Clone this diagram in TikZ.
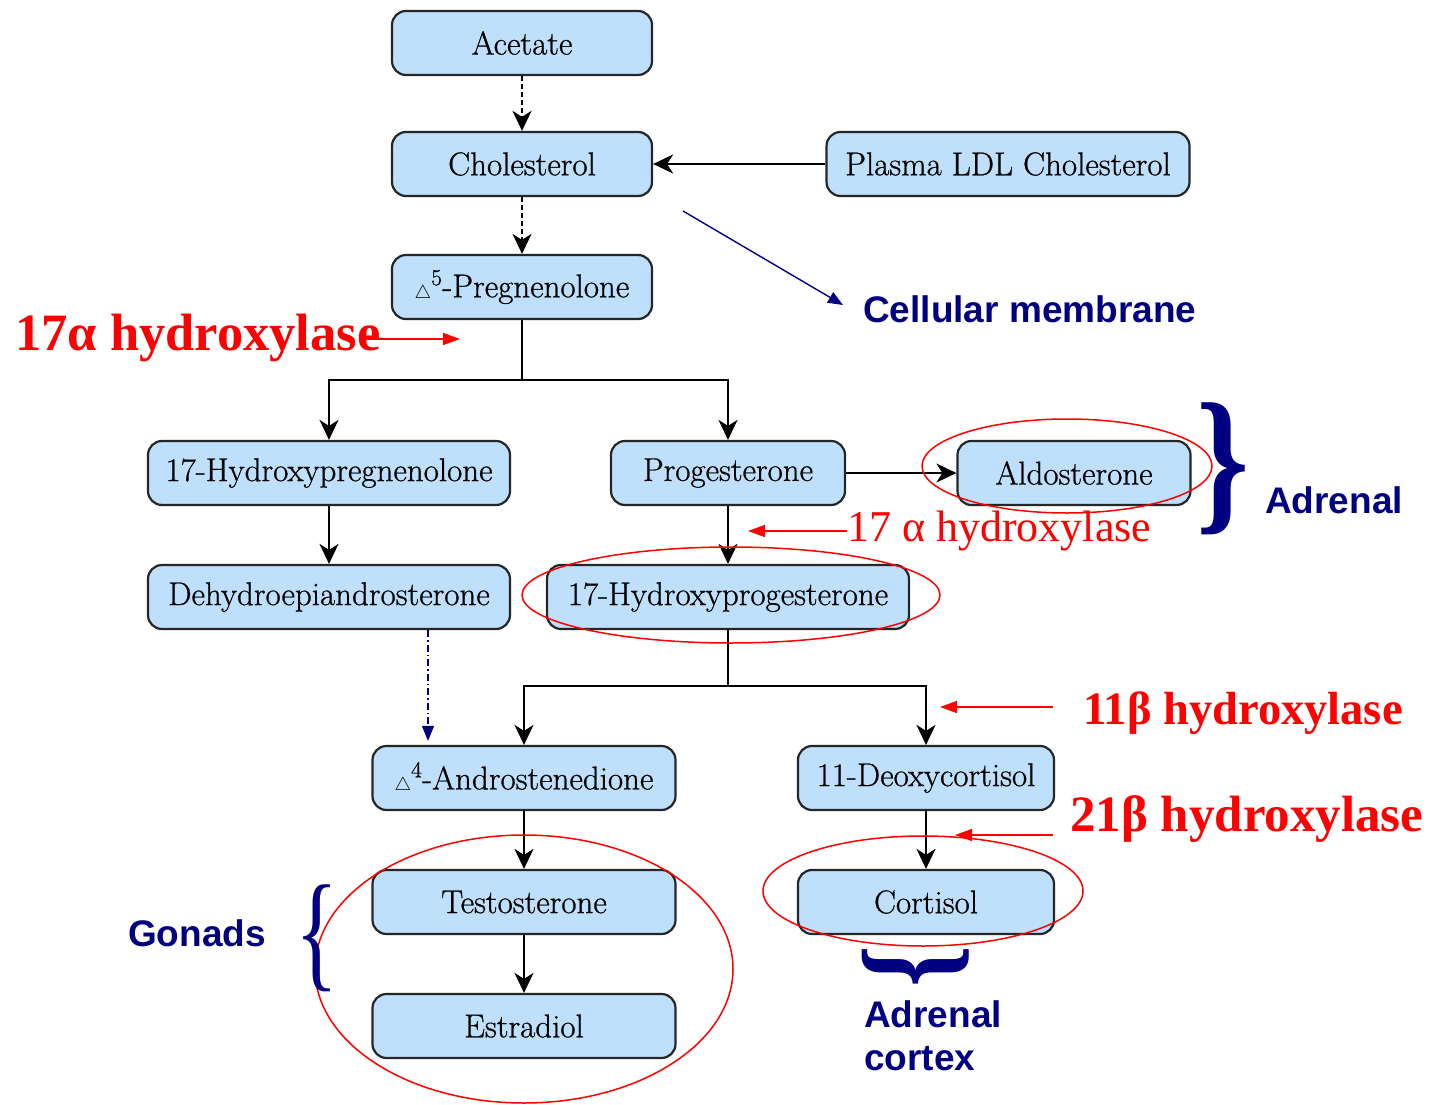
\documentclass[tikz,border=0pt]{standalone}
\usepackage{fontspec}
\usepackage{graphicx}
\usetikzlibrary{arrows.meta,shapes.geometric}
\newfontfamily\sansbold{Liberation Sans}
\newfontfamily\timesf{Liberation Serif}
\newfontfamily\boxfont{Latin Modern Roman}[FakeBold=0.7]
\definecolor{boxblue}{RGB}{190,224,252}
\definecolor{navyc}{RGB}{0,0,128}
\newcommand\dlt[1]{\raisebox{-1pt}{\scalebox{0.75}{$\triangle$}}\raisebox{3pt}{\textsuperscript{#1}}}
\begin{document}
\begin{tikzpicture}[x=1pt,y=-1pt,
  box/.style={draw=black!85, line width=2.2pt, fill=boxblue, rounded corners=14pt,
    minimum height=64pt, inner sep=0pt, font=\fontsize{33}{36}\boxfont},
  flow/.style={line width=2pt, -{Stealth[length=20pt,width=19pt,inset=6pt]}},
  plain/.style={line width=2pt},
  redarrow/.style={red, line width=1.6pt, -{Triangle[length=17pt,width=12pt]}},
  navyarrow/.style={navyc, line width=1.4pt, -{Triangle[length=15pt,width=12pt]}},
  redring/.style={red, line width=1.5pt},
  bluelabel/.style={navyc, anchor=base west, inner sep=0pt, font=\fontsize{37}{40}\sansbold\bfseries},
  redlabel/.style={red, anchor=base west, inner sep=0pt},
  bracec/.style={navyc, inner sep=0pt}
]
\useasboundingbox (0,0) rectangle (1430,1105);
\fill[white] (0,0) rectangle (1430,1105);

% boxes
\node[box, minimum width=260pt] (acetate) at (522,43) {Acetate};
\node[box, minimum width=260pt] (chol) at (522,164) {Cholesterol};
\node[box, minimum width=260pt] (preg) at (522,287) {\dlt{5}-Pregnenolone};
\node[box, minimum width=363pt] (ldl) at (1008,164) {Plasma LDL Cholesterol};
\node[box, minimum width=362pt] (ohpreg) at (329,473) {17-Hydroxypregnenolone};
\node[box, minimum width=234pt] (prog) at (728,473) {Progesterone};
\node[box, minimum width=233pt] (aldo) at (1074,473) {Aldosterone};
\node[box, minimum width=362pt] (dhea) at (329,597) {Dehydroepiandrosterone};
\node[box, minimum width=362pt] (ohprog) at (728,597) {17-Hydroxyprogesterone};
\node[box, minimum width=303pt] (andro) at (524,778) {\dlt{4}-Androstenedione};
\node[box, minimum width=256pt] (deoxy) at (926,778) {11-Deoxycortisol};
\node[box, minimum width=303pt] (testo) at (524,902) {Testosterone};
\node[box, minimum width=256pt] (cort) at (926,902) {Cortisol};
\node[box, minimum width=303pt] (estra) at (524,1026) {Estradiol};

% black connectors
\draw[flow, dash pattern=on 5pt off 3pt] (acetate) -- (chol);
\draw[flow, dash pattern=on 5pt off 3pt] (chol) -- (preg);
\draw[flow] (ldl) -- (chol);
\coordinate (j1) at (522,380);
\draw[plain] (preg) -- (j1);
\draw[flow] (j1) -| (ohpreg);
\draw[flow] (j1) -| (prog);
\draw[flow] (ohpreg) -- (dhea);
\draw[flow] (prog) -- (aldo);
\draw[flow] (prog) -- (ohprog);
\coordinate (j2) at (728,686);
\draw[plain] (ohprog) -- (j2);
\draw[flow] (j2) -| (andro);
\draw[flow] (j2) -| (deoxy);
\draw[flow] (andro) -- (testo);
\draw[flow] (testo) -- (estra);
\draw[flow] (deoxy) -- (cort);
\draw[navyarrow, line width=1.2pt, dash pattern=on 7pt off 3pt on 1.5pt off 3pt, shorten >=4pt]
  ([xshift=99pt]dhea.south) -- ([xshift=-96pt]andro.north);

% red rings
\draw[redring] (1067,466) ellipse [x radius=145, y radius=47];
\draw[redring] (731,595) ellipse [x radius=209, y radius=48];
\draw[redring] (923,891) ellipse [x radius=160, y radius=55];
\draw[redring] (524,969) ellipse [x radius=209, y radius=134];

% red labels and arrows
\node[redlabel, font=\fontsize{52.5}{56}\timesf\bfseries] (h1) at (15,350) {17α hydroxylase};
\coordinate (h1s) at (360,339);
\coordinate (h1e) at (460,339);
\draw[redarrow] (h1s) -- (h1e);

\node[redlabel, font=\fontsize{44}{46}\timesf] (h2) at (847,541) {17 α hydroxylase};
\coordinate (h2e) at (748,531);
\draw[redarrow] (h2.west |- h2e) -- (h2e);

\node[redlabel, font=\fontsize{46.5}{50}\timesf\bfseries] (h3) at (1083,724) {11β hydroxylase};
\coordinate (h3s) at (1053,707);
\coordinate (h3e) at (940,707);
\draw[redarrow] (h3s) -- (h3e);

\node[redlabel, font=\fontsize{51}{54}\timesf\bfseries] (h4) at (1070,831) {21β hydroxylase};
\coordinate (h4s) at (1053,835);
\coordinate (h4e) at (955,835);
\draw[redarrow] (h4s) -- (h4e);

% blue labels
\node[bluelabel] (cm) at (863,322) {Cellular membrane};
\coordinate (cms) at (683,211);
\coordinate (cme) at (843,305);
\draw[navyarrow] (cms) -- (cme);
\node[bluelabel] (adr) at (1265,513) {Adrenal};
\node[bluelabel] (gon) at (128,946) {Gonads};
\node[bluelabel] (adc1) at (864,1027) {Adrenal};
\node[bluelabel] (adc2) at (864,1070) {cortex};

% braces
\node[bracec] (br1) at (1223,469) {\resizebox*{53pt}{132pt}{\timesf\bfseries\}}};
\node[bracec] (br2) at (317,938) {\resizebox*{43pt}{107pt}{\timesf\{}};
\node[bracec, rotate=-90] (br3) at (916,967) {\resizebox*{42pt}{107pt}{\timesf\bfseries\}}};
\end{tikzpicture}
\end{document}
